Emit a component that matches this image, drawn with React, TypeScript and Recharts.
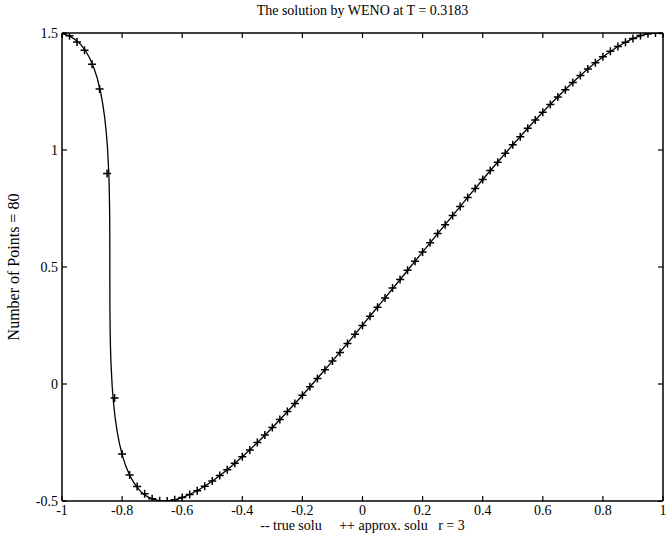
import { LineChart, Line, XAxis, YAxis } from 'recharts';

const xTicks = [-1, -0.8, -0.6, -0.4, -0.2, 0, 0.2, 0.4, 0.6, 0.8, 1];
const yTicks = [-0.5, 0, 0.5, 1, 1.5];

// true solution
const trueX = [
  -1, -0.9764, -0.9381, -0.9072, -0.8833, -0.8657, -0.8537, -0.8463, -0.8424, -0.841,
  -0.8408, -0.8406, -0.8392, -0.8353, -0.8279, -0.8159, -0.7983, -0.7744, -0.7435, -0.7052,
  -0.6591, -0.6052, -0.5435, -0.4744, -0.3983, -0.3159, -0.2279, -0.1353, -0.0392, 0.0594,
  0.1592, 0.259, 0.3576, 0.4537, 0.5463, 0.6343, 0.7167, 0.7928, 0.8619, 0.9236,
  0.9775, 1,
];
const trueU = [
  1.498, 1.4877, 1.4511, 1.391, 1.309, 1.2071, 1.0878, 0.954, 0.809, 0.6564,
  0.5, 0.3436, 0.191, 0.046, -0.0878, -0.2071, -0.309, -0.391, -0.4511, -0.4877,
  -0.5, -0.4877, -0.4511, -0.391, -0.309, -0.2071, -0.0878, 0.046, 0.191, 0.3436,
  0.5, 0.6564, 0.809, 0.954, 1.0878, 1.2071, 1.309, 1.391, 1.4511, 1.4877,
  1.5, 1.498,
];

// grid points of the approximate (WENO) solution
const gridX = [
  -1, -0.975, -0.95, -0.925, -0.9, -0.875, -0.85, -0.825, -0.8, -0.775,
  -0.75, -0.725, -0.7, -0.675, -0.65, -0.625, -0.6, -0.575, -0.55, -0.525,
  -0.5, -0.475, -0.45, -0.425, -0.4, -0.375, -0.35, -0.325, -0.3, -0.275,
  -0.25, -0.225, -0.2, -0.175, -0.15, -0.125, -0.1, -0.075, -0.05, -0.025,
  0, 0.025, 0.05, 0.075, 0.1, 0.125, 0.15, 0.175, 0.2, 0.225,
  0.25, 0.275, 0.3, 0.325, 0.35, 0.375, 0.4, 0.425, 0.45, 0.475,
  0.5, 0.525, 0.55, 0.575, 0.6, 0.625, 0.65, 0.675, 0.7, 0.725,
  0.75, 0.775, 0.8, 0.825, 0.85, 0.875, 0.9, 0.925, 0.95, 0.975,
  1,
];
const approxU = [
  1.498, 1.488, 1.462, 1.426, 1.366, 1.261, 0.9, -0.06, -0.299, -0.389,
  -0.438, -0.469, -0.49, -0.499, -0.5, -0.495, -0.485, -0.472, -0.456, -0.437,
  -0.415, -0.391, -0.366, -0.339, -0.311, -0.282, -0.25, -0.218, -0.186, -0.152,
  -0.118, -0.083, -0.048, -0.012, 0.024, 0.061, 0.098, 0.135, 0.173, 0.213,
  0.25, 0.29, 0.328, 0.368, 0.41, 0.447, 0.486, 0.525, 0.564, 0.604,
  0.643, 0.681, 0.72, 0.759, 0.797, 0.836, 0.874, 0.912, 0.948, 0.986,
  1.022, 1.057, 1.093, 1.128, 1.161, 1.194, 1.227, 1.258, 1.288, 1.318,
  1.346, 1.373, 1.398, 1.422, 1.442, 1.461, 1.477, 1.489, 1.497, 1.5,
  1.498,
];

const trueData = trueX.map((x, i) => ({ x, u: trueU[i] }));
const approxData = gridX.map((x, i) => ({ x, u: approxU[i] }));

const font = '"Liberation Serif", "Times New Roman", serif';
const tickStyle = { fontFamily: font, fontSize: 14, fill: '#000' };
const axisLine = { stroke: '#000', strokeWidth: 1.5 };
const tickLine = { stroke: '#000', strokeWidth: 1.2 };
const noLabel = () => '';

const Plus = (props: any) => {
  const { cx, cy, index } = props;
  if (cx == null || cy == null) return <g key={`p-${index}`} />;
  return (
    <path
      key={`p-${index}`}
      d={`M${cx - 4},${cy}H${cx + 4}M${cx},${cy - 4}V${cy + 4}`}
      stroke="#000"
      strokeWidth={1.5}
      fill="none"
    />
  );
};

export default function App() {
  return (
    <div style={{ position: 'absolute', left: 0, top: 0, width: 669, height: 539, background: '#fff' }}>
      <LineChart
        width={669}
        height={539}
        margin={{ top: 33, right: 6, bottom: 37, left: 61 }}
      >
        {/* inward tick marks (mirrored axes) */}
        <XAxis
          xAxisId="bt"
          type="number"
          dataKey="x"
          domain={[-1, 1]}
          ticks={xTicks}
          allowDataOverflow
          mirror
          height={1}
          tickSize={5}
          tickFormatter={noLabel}
          axisLine={axisLine}
          tickLine={tickLine}
          interval={0}
        />
        {/* bottom labels */}
        <XAxis
          xAxisId="b"
          type="number"
          dataKey="x"
          domain={[-1, 1]}
          ticks={xTicks}
          allowDataOverflow
          height={1}
          tickSize={0}
          tickMargin={4}
          tick={tickStyle}
          axisLine={false}
          tickLine={false}
          interval={0}
        />
        <XAxis
          xAxisId="t"
          orientation="top"
          type="number"
          dataKey="x"
          domain={[-1, 1]}
          ticks={xTicks}
          allowDataOverflow
          mirror
          height={1}
          tickSize={5}
          tickFormatter={noLabel}
          axisLine={axisLine}
          tickLine={tickLine}
          interval={0}
        />
        <YAxis
          yAxisId="lt"
          type="number"
          domain={[-0.5, 1.5]}
          ticks={yTicks}
          allowDataOverflow
          mirror
          width={1}
          tickSize={5}
          tickFormatter={noLabel}
          axisLine={axisLine}
          tickLine={tickLine}
          interval={0}
        />
        <YAxis
          yAxisId="l"
          type="number"
          domain={[-0.5, 1.5]}
          ticks={yTicks}
          allowDataOverflow
          width={1}
          tickSize={0}
          tickMargin={4}
          tick={tickStyle}
          axisLine={false}
          tickLine={false}
          interval={0}
        />
        <YAxis
          yAxisId="r"
          orientation="right"
          type="number"
          domain={[-0.5, 1.5]}
          ticks={yTicks}
          allowDataOverflow
          mirror
          width={1}
          tickSize={5}
          tickFormatter={noLabel}
          axisLine={axisLine}
          tickLine={tickLine}
          interval={0}
        />
        <Line
          xAxisId="bt"
          yAxisId="lt"
          data={trueData}
          dataKey="u"
          type="monotone"
          stroke="#000"
          strokeWidth={1.3}
          dot={false}
          isAnimationActive={false}
        />
        <Line
          xAxisId="bt"
          yAxisId="lt"
          data={approxData}
          dataKey="u"
          stroke="none"
          dot={Plus}
          activeDot={false}
          isAnimationActive={false}
        />
      </LineChart>
      <div
        style={{
          position: 'absolute', left: 63, width: 599, top: 3, textAlign: 'center',
          fontFamily: font, fontSize: 14, color: '#000', whiteSpace: 'pre',
        }}
      >
        The solution by WENO at T = 0.3183
      </div>
      <div
        style={{
          position: 'absolute', left: 63, width: 599, top: 518, textAlign: 'center',
          fontFamily: font, fontSize: 14, color: '#000', whiteSpace: 'pre',
        }}
      >
        {'-- true solu     ++ approx. solu   r = 3'}
      </div>
      <div
        style={{
          position: 'absolute', left: 14, top: 267, width: 0, height: 0,
        }}
      >
        <div
          style={{
            position: 'absolute', left: -150, top: -10, width: 300, textAlign: 'center',
            transform: 'rotate(-90deg)', fontFamily: font, fontSize: 16, color: '#000',
            whiteSpace: 'pre', lineHeight: '20px',
          }}
        >
          Number of Points = 80
        </div>
      </div>
    </div>
  );
}
